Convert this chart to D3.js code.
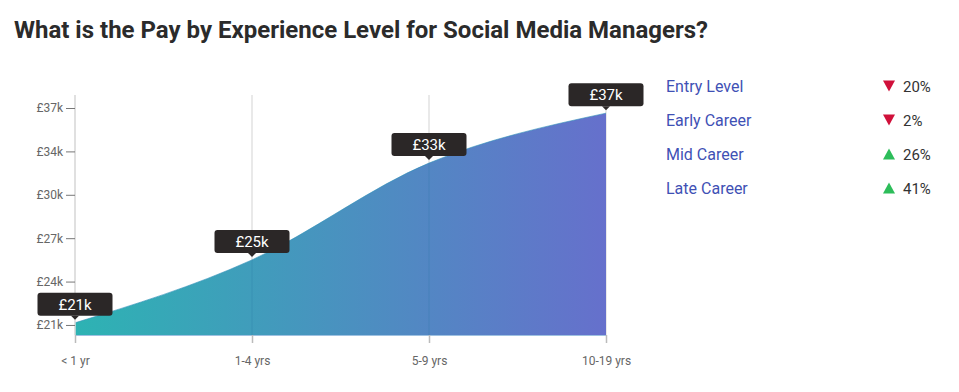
<!DOCTYPE html>
<html>
<head>
<meta charset="utf-8">
<script src="https://cdn.jsdelivr.net/npm/d3@7"></script>
<style>
  body { margin: 0; background: #fff; font-family: Roboto, "Noto Sans", sans-serif; }
  svg { display: block; }
</style>
</head>
<body>
<div id="chart"></div>
<script>
// data
var categories = ["< 1 yr", "1-4 yrs", "5-9 yrs", "10-19 yrs"];
var pay = [21160, 25800, 32940, 36620];
var payLabels = ["£21k", "£25k", "£33k", "£37k"];
var tickValues = [21000, 24200, 27400, 30600, 33800, 37000];
var tickLabels = ["£21k", "£24k", "£27k", "£30k", "£34k", "£37k"];
var levels = ["Entry Level", "Early Career", "Mid Career", "Late Career"];
var changes = [-20, -2, 26, 41];

var width = 959, height = 392;

var svg = d3.select("#chart").append("svg")
    .attr("width", width)
    .attr("height", height);

//title
svg.append("text")
    .attr("x", 14)
    .attr("y", 38)
    .attr("font-size", 24)
    .attr("font-weight", 700)
    .attr("fill", "#2b2b2b")
    .text("What is the Pay by Experience Level for Social Media Managers?");

//scales
var x = d3.scalePoint()
    .domain(categories)
    .range([75, 606]);

var y = d3.scaleLinear()
    .domain([20260, 37000])
    .range([335, 108]);

var plotTop = 95, base = 335;

//gradient for the area
var grad = svg.append("defs").append("linearGradient")
    .attr("id", "areaGrad")
    .attr("x1", "0%").attr("x2", "100%")
    .attr("y1", "0%").attr("y2", "0%");
grad.append("stop").attr("offset", "0%").attr("stop-color", "#2db3b3");
grad.append("stop").attr("offset", "100%").attr("stop-color", "#6670cc");

//vertical grid lines
svg.append("g").selectAll("line")
    .data(categories)
    .enter().append("line")
    .attr("x1", function(d) { return x(d); })
    .attr("x2", function(d) { return x(d); })
    .attr("y1", plotTop)
    .attr("y2", base)
    .attr("stroke", "#e2e2e2")
    .attr("stroke-width", 1.5);

//area
var pts = categories.map(function(c, i) { return [x(c), y(pay[i])]; });

var area = d3.area()
    .x(function(d) { return d[0]; })
    .y0(base)
    .y1(function(d) { return d[1]; })
    .curve(d3.curveMonotoneX);

var line = d3.line()
    .x(function(d) { return d[0]; })
    .y(function(d) { return d[1]; })
    .curve(d3.curveMonotoneX);

svg.append("path")
    .datum(pts)
    .attr("d", area)
    .attr("fill", "url(#areaGrad)");

svg.append("path")
    .datum(pts)
    .attr("d", line)
    .attr("fill", "none")
    .attr("stroke", "#2f8fb8")
    .attr("stroke-opacity", 0.6)
    .attr("stroke-width", 1);

//grid lines again, faint over the area
svg.append("g").selectAll("line")
    .data(categories.slice(1, 3))
    .enter().append("line")
    .attr("x1", function(d) { return x(d); })
    .attr("x2", function(d) { return x(d); })
    .attr("y1", function(d, i) { return y(pay[i + 1]); })
    .attr("y2", base)
    .attr("stroke", "#1f6f9f")
    .attr("stroke-opacity", 0.25)
    .attr("stroke-width", 1);

//x axis
var xAxis = svg.append("g")
    .attr("transform", "translate(0," + base + ")")
    .call(d3.axisBottom(x).tickSize(8).tickPadding(13).tickSizeOuter(0));
xAxis.select(".domain").attr("stroke", "#3d83c4").attr("stroke-opacity", 0.5);
xAxis.selectAll(".tick line").attr("stroke", "#bbb").attr("stroke-width", 1.5);
xAxis.selectAll(".tick text")
    .attr("fill", "#666")
    .attr("font-size", 12)
    .attr("font-family", "Roboto, sans-serif");

//left axis line
svg.append("line")
    .attr("x1", 75).attr("x2", 75)
    .attr("y1", plotTop).attr("y2", base)
    .attr("stroke", "#ddd")
    .attr("stroke-width", 1.5);

//y axis
var yAxis = svg.append("g")
    .attr("transform", "translate(75,0)")
    .call(d3.axisLeft(y).tickValues(tickValues).tickSize(9).tickPadding(3)
      .tickFormat(function(d, i) { return tickLabels[i]; }));
yAxis.select(".domain").remove();
yAxis.selectAll(".tick line").attr("stroke", "#777");
yAxis.selectAll(".tick text")
    .attr("fill", "#666")
    .attr("font-size", 12)
    .attr("font-family", "Roboto, sans-serif");

//value tooltips
var tipW = 75, tipH = 23;
var tips = svg.append("g").selectAll("g")
    .data(pts)
    .enter().append("g")
    .attr("transform", function(d) { return "translate(" + d[0] + "," + (d[1] - 7) + ")"; });

tips.append("rect")
    .attr("x", -tipW / 2)
    .attr("y", -tipH)
    .attr("width", tipW)
    .attr("height", tipH)
    .attr("rx", 3)
    .attr("fill", "#2b2727");

tips.append("path")
    .attr("d", "M-4,0L4,0L0,4Z")
    .attr("fill", "#2b2727");

tips.append("text")
    .attr("y", -6)
    .attr("text-anchor", "middle")
    .attr("fill", "#fff")
    .attr("font-size", 15)
    .text(function(d, i) { return payLabels[i]; });

//legend
var legend = svg.append("g").selectAll("g")
    .data(levels)
    .enter().append("g")
    .attr("transform", function(d, i) { return "translate(0," + (86 + i * 34) + ")"; });

legend.append("text")
    .attr("x", 666)
    .attr("y", 6)
    .attr("font-size", 16)
    .attr("fill", "#3f51b5")
    .text(function(d) { return d; });

legend.append("path")
    .attr("d", function(d, i) {
      return changes[i] < 0 ? "M883,-5.5L895,-5.5L889,5.5Z" : "M883,5.5L895,5.5L889,-5.5Z";
    })
    .attr("fill", function(d, i) { return changes[i] < 0 ? "#d0103a" : "#2dbd5a"; });

legend.append("text")
    .attr("x", 903)
    .attr("y", 6)
    .attr("font-size", 15)
    .attr("fill", "#333")
    .text(function(d, i) { return Math.abs(changes[i]) + "%"; });
</script>
</body>
</html>
